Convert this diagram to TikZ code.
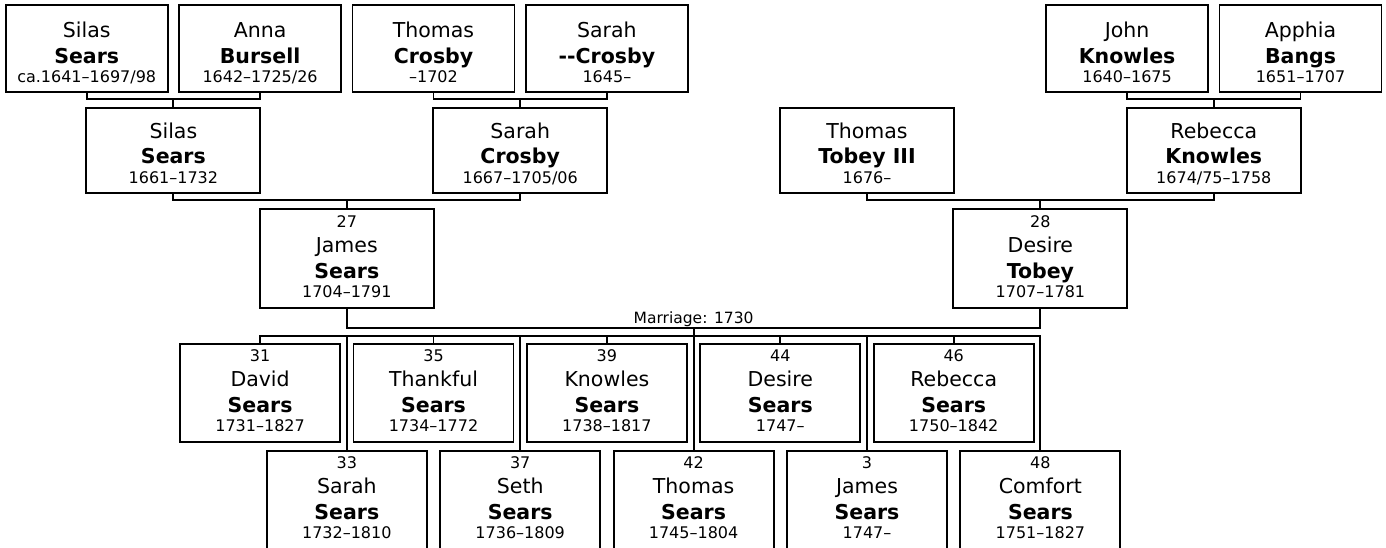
\documentclass[tikz,border=0pt]{standalone}
\usepackage{fontspec}
\setmainfont{DejaVu Sans}
\newcommand\hs[1]{\rule{0pt}{#1pt}}
\newcommand\ds[1]{\rule[-#1pt]{0pt}{#1pt}}
\newcommand\sm[1]{{\fontsize{16}{16}\selectfont #1}}
\newcommand\kid[4]{\hs{17}\sm{#1}\\#2\\\textbf{#3}\\[-6pt]\sm{#4}\ds{10}}
\newcommand\anc[4]{\hs{#4}#1\\\textbf{#2}\\[-6pt]\sm{#3}\ds{9}}
\begin{document}
\begin{tikzpicture}[x=86.7pt,y=-1pt,
  pbox/.style={draw,line width=1.9pt,align=center,inner sep=0pt,font=\fontsize{20.5}{25.5}\selectfont},
  topbox/.style={pbox,minimum width=162pt,minimum height=87pt},
  midbox/.style={pbox,minimum width=174pt,minimum height=85pt},
  parbox/.style={pbox,minimum width=174pt,minimum height=99pt},
  kidbox/.style={pbox,minimum width=160pt,minimum height=98pt},
  link/.style={line width=1.9pt},
  mlabel/.style={inner sep=1pt,font=\fontsize{15.5}{18}\selectfont}]
\useasboundingbox (0pt,0pt) rectangle (1386pt,-547pt);

% generation 1
\node[topbox] (s0) at (1,48.5) {\anc{Silas}{Sears}{ca.1641–1697/98}{32}};
\node[topbox] (a0) at (3,48.5) {\anc{Anna}{Bursell}{1642–1725/26}{32}};
\node[topbox] (t0) at (5,48.5) {\anc{Thomas}{Crosby}{–1702}{32}};
\node[topbox] (r0) at (7,48.5) {\anc{Sarah}{-{}-Crosby}{1645–}{32}};
\node[topbox] (j0) at (13,48.5) {\anc{John}{Knowles}{1640–1675}{32}};
\node[topbox] (p0) at (15,48.5) {\anc{Apphia}{Bangs}{1651–1707}{32}};

% generation 2
\node[midbox] (s1) at (2,150.5) {\anc{Silas}{Sears}{1661–1732}{29}};
\node[midbox] (c1) at (6,150.5) {\anc{Sarah}{Crosby}{1667–1705/06}{29}};
\node[midbox] (t1) at (10,150.5) {\anc{Thomas}{Tobey III}{1676–}{29}};
\node[midbox] (k1) at (14,150.5) {\anc{Rebecca}{Knowles}{1674/75–1758}{29}};

% generation 3
\node[parbox] (js) at (4,258.5) {\hs{18}\sm{27}\\James\\\textbf{Sears}\\[-6pt]\sm{1704–1791}\ds{10}};
\node[parbox] (dt) at (12,258.5) {\hs{18}\sm{28}\\Desire\\\textbf{Tobey}\\[-6pt]\sm{1707–1781}\ds{10}};

% children
\node[kidbox] (k31) at (3,393) {\kid{31}{David}{Sears}{1731–1827}};
\node[kidbox] (k35) at (5,393) {\kid{35}{Thankful}{Sears}{1734–1772}};
\node[kidbox] (k39) at (7,393) {\kid{39}{Knowles}{Sears}{1738–1817}};
\node[kidbox] (k44) at (9,393) {\kid{44}{Desire}{Sears}{1747–}};
\node[kidbox] (k46) at (11,393) {\kid{46}{Rebecca}{Sears}{1750–1842}};
\node[kidbox] (k33) at (4,500) {\kid{33}{Sarah}{Sears}{1732–1810}};
\node[kidbox] (k37) at (6,500) {\kid{37}{Seth}{Sears}{1736–1809}};
\node[kidbox] (k42) at (8,500) {\kid{42}{Thomas}{Sears}{1745–1804}};
\node[kidbox] (k03) at (10,500) {\kid{3}{James}{Sears}{1747–}};
\node[kidbox] (k48) at (12,500) {\kid{48}{Comfort}{Sears}{1751–1827}};

% connectors
\coordinate (m0a) at (2,99);
\coordinate (m0b) at (6,99);
\coordinate (m0c) at (14,99);
\draw[link] (s0.south) |- (m0a) -| (a0.south);
\draw[link] (m0a) -- (s1.north);
\draw[link] (t0.south) |- (m0b) -| (r0.south);
\draw[link] (m0b) -- (c1.north);
\draw[link] (j0.south) |- (m0c) -| (p0.south);
\draw[link] (m0c) -- (k1.north);

\coordinate (m1a) at (4,200);
\coordinate (m1b) at (12,200);
\draw[link] (s1.south) |- (m1a) -| (c1.south);
\draw[link] (m1a) -- (js.north);
\draw[link] (t1.south) |- (m1b) -| (k1.south);
\draw[link] (m1b) -- (dt.north);

\coordinate (mar) at (8,328);
\coordinate (bar) at (8,336);
\draw[link] (js.south) |- (mar) -| (dt.south);
\node[mlabel,anchor=south] (ml) at (mar) {Marriage: 1730};
\draw[link] (mar) -- (bar);
\foreach \k in {k31,k35,k39,k44,k46,k33,k37,k42,k03,k48}
  \draw[link] (bar) -| (\k.north);
\end{tikzpicture}
\end{document}
